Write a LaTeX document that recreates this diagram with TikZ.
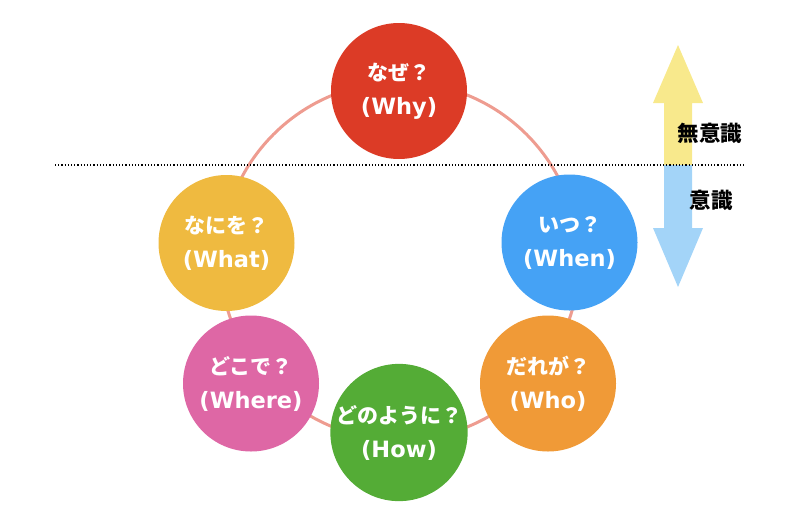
\documentclass[tikz,border=0pt]{standalone}
\usepackage{fontspec}
\newfontfamily\jpfont{Noto Sans CJK JP}
\newfontfamily\latfont{DejaVu Sans}
\newcommand\enline{\latfont\fontsize{22.5}{34}\selectfont}
\usepackage{tikz}

\definecolor{whyred}{HTML}{DC3B26}
\definecolor{whenblue}{HTML}{45A2F5}
\definecolor{whoorange}{HTML}{F09A37}
\definecolor{howgreen}{HTML}{54AC36}
\definecolor{wherepink}{HTML}{DE67A5}
\definecolor{whatyellow}{HTML}{EFBA40}
\definecolor{ringline}{HTML}{EE9C90}
\definecolor{upyellow}{HTML}{F8E98C}
\definecolor{downblue}{HTML}{A3D4F8}

\begin{document}
\begin{tikzpicture}[
      x=1pt,y=-1pt,
      font=\jpfont,
      bubble/.style={circle,minimum size=136pt,inner sep=0pt,align=center,text=white,
        font=\jpfont\bfseries\fontsize{21}{34}\selectfont},
      ring/.style={draw=ringline,line width=3pt},
      side/.style={font=\jpfont\bfseries\fontsize{21.5}{24}\selectfont,text=black}
    ]
      \useasboundingbox (0,0) rectangle (800,528);

      % ring behind the circles
      \coordinate (rc) at (400,261);
      \draw[ring] (rc) circle[radius=179pt];

      \node[bubble,fill=whyred] (why) at (399,91) {なぜ？\\\enline(Why)};
      \node[bubble,fill=whenblue] (when) at (569.5,242.5) {いつ？\\\enline(When)};
      \node[bubble,fill=whoorange] (who) at (548,383.5) {だれが？\\\enline(Who)};
      \node[bubble,fill=howgreen] (how) at (399,432.5) {どのように？\\\enline(How)};
      \node[bubble,fill=wherepink] (where) at (251,383.5) {どこで？\\\enline(Where)};
      \node[bubble,fill=whatyellow] (what) at (226.5,243) {なにを？\\\enline(What)};

      % conscious / unconscious arrows
      \fill[upyellow] (664,165) -- (664,103) -- (653,103) -- (678,45) -- (703,103) -- (692,103) -- (692,165) -- cycle;
      \fill[downblue] (664,165) -- (664,228) -- (653,228) -- (678,287) -- (703,228) -- (692,228) -- (692,165) -- cycle;

      \coordinate (dl) at (55,165);
      \coordinate (dr) at (744,165);
      \draw[dotted,line width=1.2pt] (dl) -- (dr);

      \node[side] (muishiki) at (710,133) {無意識};
      \node[side] (ishiki) at (711,200) {意識};
    \end{tikzpicture}
\end{document}
